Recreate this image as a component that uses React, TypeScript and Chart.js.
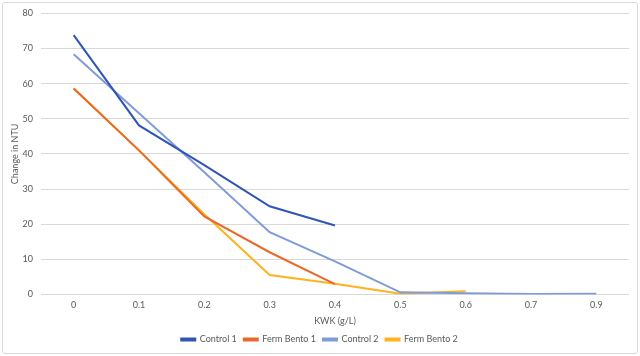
import React, { useEffect, useRef } from "react";
import { Chart, registerables } from "chart.js";

Chart.register(...registerables);

const categories = ["0", "0.1", "0.2", "0.3", "0.4", "0.5", "0.6", "0.7", "0.9"];
const control1 = [73.8, 48.1, 36.8, 25.1, 19.6, null, null, null, null];
const fermBento1 = [58.6, 41.0, 22.2, 12.0, 2.9, null, null, null, null];
const control2 = [68.4, 51.6, 34.8, 17.7, 9.4, 0.6, 0.3, 0.1, 0.2];
const fermBento2 = [58.7, 41.0, 22.8, 5.5, 3.0, 0.2, 0.9, null, null];
const yTicks = [0, 10, 20, 30, 40, 50, 60, 70, 80];

const FONT = "Lato, 'Liberation Sans', sans-serif";
const TEXT = "#595959";

export default function App() {
  const ref = useRef<HTMLCanvasElement>(null);
  useEffect(() => {
    if (!ref.current) return;
    const mk = (label: string, data: (number | null)[], color: string) => ({
      label,
      data,
      borderColor: color,
      backgroundColor: color,
      borderWidth: 2,
      pointRadius: 0,
      tension: 0,
      spanGaps: false,
    });
    const chart = new Chart(ref.current, {
      type: "line",
      data: {
        labels: categories,
        datasets: [
          mk("Control 1", control1, "#2F55B5"),
          mk("Ferm Bento 1", fermBento1, "#E8692A"),
          mk("Control 2", control2, "#7F9BD8"),
          mk("Ferm Bento 2", fermBento2, "#FFB21F"),
        ],
      },
      options: {
        animation: false,
        responsive: false,
        maintainAspectRatio: false,
        layout: { padding: { left: 10, right: 11, top: 7, bottom: 2 } },
        plugins: {
          tooltip: { enabled: false },
          legend: {
            position: "bottom",
            labels: {
              boxWidth: 14,
              boxHeight: 2,
              padding: 7,
              color: TEXT,
              font: { family: FONT, size: 9 },
            },
          },
        },
        scales: {
          x: {
            offset: true,
            grid: { display: false, drawTicks: false },
            border: { display: false },
            ticks: { color: TEXT, font: { family: FONT, size: 9 }, padding: 5, maxRotation: 0 },
            title: {
              display: true,
              text: "KWK (g/L)",
              color: TEXT,
              font: { family: FONT, size: 9 },
              padding: { top: 0, bottom: 2 },
            },
          },
          y: {
            min: 0,
            max: 80,
            afterBuildTicks: (s: any) => {
              s.ticks = yTicks.map((v) => ({ value: v }));
            },
            grid: { color: "#d9d9d9", lineWidth: 1, drawTicks: false },
            border: { display: false },
            ticks: { color: TEXT, font: { family: FONT, size: 9 }, padding: 8 },
            title: {
              display: true,
              text: "Change in NTU",
              color: TEXT,
              font: { family: FONT, size: 9 },
              padding: { top: 0, bottom: 0 },
            },
            afterFit: (s: any) => {
              s.width = 31;
            },
          },
        },
      },
    });
    return () => chart.destroy();
  }, []);
  return (
    <div
      style={{
        position: "absolute",
        left: 0,
        top: 0,
        width: 640,
        height: 356,
        background: "#fff",
      }}
    >
      <div
        style={{
          position: "absolute",
          left: 2,
          top: 2,
          width: 634,
          height: 350,
          border: "1px solid #d9d9d9",
          borderRadius: 3,
        }}
      />
      <canvas ref={ref} width={640} height={356} style={{ position: "absolute", left: 0, top: 0 }} />
    </div>
  );
}
